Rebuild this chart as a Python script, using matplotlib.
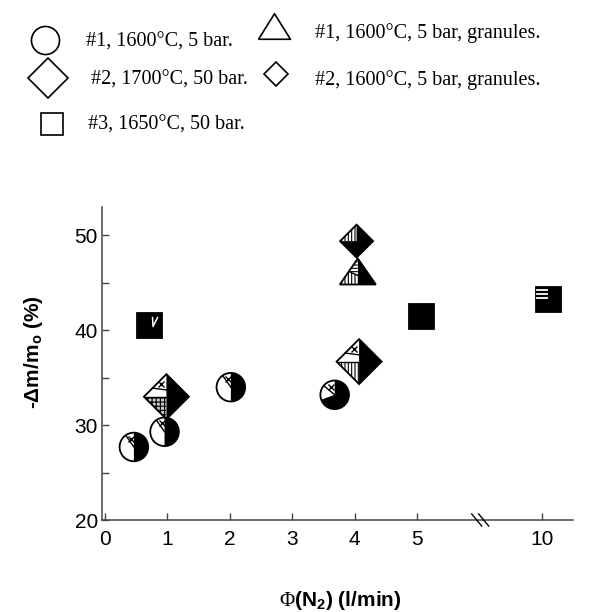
import numpy as np
import matplotlib
matplotlib.use('Agg')
import matplotlib.pyplot as plt
from matplotlib.patches import Polygon, Wedge, Circle
from matplotlib.lines import Line2D
from matplotlib.transforms import ScaledTranslation

plt.rcParams['mathtext.fontset'] = 'custom'
plt.rcParams['mathtext.rm'] = 'Liberation Serif'
plt.rcParams['mathtext.bf'] = 'Liberation Sans:bold'
plt.rcParams['hatch.linewidth'] = 0.8

# N2 flow (l/min) vs weight loss -dm/m0 (%)
circ_x = [0.47, 0.96, 2.02, 3.68]      # #1, 1600C, 5 bar
circ_y = [27.7, 29.3, 34.0, 33.2]
dia_x = [0.99, 4.07]                   # #2, 1700C, 50 bar
dia_y = [33.0, 36.7]
sq_x = [0.72, 5.06, 10.1]              # #3, 1650C, 50 bar
sq_y = [40.5, 41.5, 43.2]
tri_x = [4.05]                         # #1, granules
tri_y = [46.2]
gdia_x = [4.03]                        # #2, granules
gdia_y = [49.4]

xticks = [0, 1, 2, 3, 4, 5, 10]
yticks = [20, 30, 40, 50]
yminor = [25, 35, 45]

labels_left = ['#1, 1600°C, 5 bar.', '#2, 1700°C, 50 bar.', '#3, 1650°C, 50 bar.']
labels_right = ['#1, 1600°C, 5 bar, granules.', '#2, 1600°C, 5 bar, granules.']

W, H = 593, 612


def xmap(v):
    # broken axis: 10 sits two units right of 5
    return v if v < 7 else v - 3


def fx(px):
    return px / W


def fy(py):
    return 1 - py / H


fig = plt.figure(figsize=(W / 100, H / 100), dpi=100)
ax = fig.add_axes([fx(102), fy(520), 471 / W, 313 / H])


def at(x, y):
    # shapes below are drawn in pixels around a data point
    return ScaledTranslation(xmap(x), y, ax.transData)


def poly(T, pts, fc, hatch=None, z=3):
    ax.add_patch(Polygon(pts, closed=True, transform=T, fc=fc, ec='black', lw=0,
                         hatch=hatch, clip_on=False, zorder=z))


def outline(T, pts, z=5):
    ax.add_patch(Polygon(pts, closed=True, transform=T, fill=False, ec='black',
                         lw=1.3, clip_on=False, zorder=z))


def seg(T, xs, ys, color='black', lw=1.0):
    ax.add_line(Line2D(xs, ys, transform=T, color=color, lw=lw, clip_on=False, zorder=6))


def cross(T, x, y):
    ax.add_line(Line2D([x], [y], transform=T, marker='x', ms=4, mew=1, color='black',
                       clip_on=False, zorder=6))


# circles, right half black
r = 14.3
for i, (x, y) in enumerate(zip(circ_x, circ_y)):
    T = at(x, y)
    b0, cut = (-90, 125) if i < 3 else (200, 140)
    ax.add_patch(Circle((0, 0), r, transform=T, fc='white', ec='none', clip_on=False, zorder=3))
    ax.add_patch(Wedge((0, 0), r, b0, 90, transform=T, fc='black', ec='none', clip_on=False, zorder=4))
    ax.add_patch(Circle((0, 0), r, transform=T, fill=False, ec='black', lw=1.3, clip_on=False, zorder=5))
    a = np.radians(cut)
    seg(T, [0, r * np.cos(a)], [0, r * np.sin(a)])
    m = np.radians((90 + cut) / 2)
    cross(T, 0.62 * r * np.cos(m), 0.62 * r * np.sin(m))

# big diamonds
a = 22.5
dia_hatch = [('#c8c8c8', '++++'), ('white', '|||||')]
for i, (x, y) in enumerate(zip(dia_x, dia_y)):
    T = at(x, y)
    full = [(0, a), (a, 0), (0, -a), (-a, 0)]
    poly(T, full, 'white')
    poly(T, [(0, a), (a, 0), (0, -a)], 'black', z=4)
    fc, h = dia_hatch[i]
    poly(T, [(-a, 0), (0, 0), (0, -a)], fc, hatch=h, z=4)
    seg(T, [-a, 0], [0, 0])
    seg(T, [-0.62 * a, 0], [0.38 * a, 0.3 * a])
    cross(T, -0.22 * a, 0.55 * a)
    outline(T, full)

# granules, #2: small diamond
a = 16.5
for x, y in zip(gdia_x, gdia_y):
    T = at(x, y)
    full = [(0, a), (a, 0), (0, -a), (-a, 0)]
    poly(T, full, 'black')
    poly(T, [(0, a), (-a, 0), (0, 0)], 'white', hatch='|||||', z=4)
    outline(T, full)

# granules, #1: triangle
for x, y in zip(tri_x, tri_y):
    T = at(x, y)
    full = [(0, 13), (18, -13), (-18, -13)]
    poly(T, full, 'white')
    poly(T, [(0, 13), (18, -13), (0, -13)], 'black', z=4)
    poly(T, [(0, 13), (-9, 0), (0, -4)], 'white', hatch='-----', z=4)
    poly(T, [(-9, 0), (-18, -13), (0, -13), (0, -4)], 'white', hatch='|||||', z=4)
    seg(T, [-9, 0], [0, -4])
    outline(T, full)

# squares
s = 12.5
for i, (x, y) in enumerate(zip(sq_x, sq_y)):
    T = at(x, y)
    full = [(-s, -s), (s, -s), (s, s), (-s, s)]
    poly(T, full, 'black')
    if i == 0:
        seg(T, [3, 3.5, 8], [8, -1, 8], color='white', lw=1.1)
    if i == 2:
        for dy in (10, 6, 2):
            seg(T, [-11.5, -2], [dy, dy], color='white', lw=1.3)
    outline(T, full)

# axes
ax.set_xlim(-0.04, 7.49)
ax.set_ylim(20, 53)
ax.set_xticks([xmap(v) for v in xticks])
ax.set_xticklabels([str(v) for v in xticks])
ax.set_yticks(yticks)
ax.set_yticks(yminor, minor=True)
for sp in ['top', 'right']:
    ax.spines[sp].set_visible(False)
for sp in ['left', 'bottom']:
    ax.spines[sp].set_linewidth(1.1)
    ax.spines[sp].set_color('#444444')
ax.tick_params(which='both', direction='in', length=5, width=1, color='#444444')
ax.tick_params(axis='x', pad=7, labelsize=15)
ax.tick_params(axis='y', pad=3, labelsize=15)
for t in ax.get_xticklabels() + ax.get_yticklabels():
    t.set_fontfamily('Liberation Sans')

# break marks on the x axis
for off in (0, 7):
    T = ScaledTranslation(5.95, 20, ax.transData)
    ax.add_line(Line2D([off - 5, off + 5], [6, -6], transform=T, color='black', lw=1,
                       clip_on=False, zorder=6))

ax.set_xlabel('$\\Phi$(N$_\\mathbf{2}$) (l/min)', fontsize=15, fontweight='bold',
              fontfamily='Liberation Sans')
ax.xaxis.set_label_coords(0.505, -0.222)
ax.set_ylabel('-Δm/m$_\\mathbf{o}$ (%)', fontsize=15, fontweight='bold',
              fontfamily='Liberation Sans')
ax.yaxis.set_label_coords(-0.122, 0.537)

# legend drawn with open symbols at the top of the figure
tri_marker = [(-1, -0.8), (1, -0.8), (0, 0.8), (-1, -0.8)]
left_keys = [('o', 20.2, 45, 40), ('D', 20.4, 48, 78), ('s', 15.8, 52, 124)]
right_keys = [(tri_marker, 23, 274, 26), ('D', 12.7, 276, 74)]
for (mk, ms, px, py), lab, tx, base in zip(left_keys, labels_left, [86, 91, 88], [47, 85, 130]):
    fig.add_artist(Line2D([fx(px)], [fy(py)], transform=fig.transFigure, marker=mk, ms=ms,
                          mfc='white', mec='black', mew=1.2, ls='none'))
    fig.text(fx(tx), fy(base), lab, fontsize=14.5, fontfamily='Liberation Serif', va='baseline')
for (mk, ms, px, py), lab, base in zip(right_keys, labels_right, [38, 85]):
    fig.add_artist(Line2D([fx(px)], [fy(py)], transform=fig.transFigure, marker=mk, ms=ms,
                          mfc='white', mec='black', mew=1.2, ls='none'))
    fig.text(fx(315), fy(base), lab, fontsize=14.5, fontfamily='Liberation Serif', va='baseline')

fig.savefig('out.png', dpi=100)
